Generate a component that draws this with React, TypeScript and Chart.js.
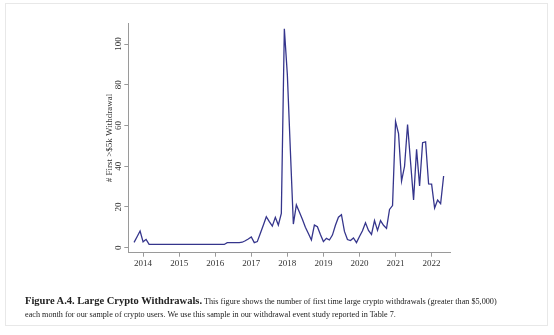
import React, { useEffect, useRef } from "react";
import { Chart, registerables } from "chart.js";

Chart.register(...registerables);

// First month of the series (Oct 2013); one value per month through May 2022
const startYear = 2013;
const startMonth = 10;

const withdrawals2013 = [2.6, 5.4, 8.2];
const withdrawals2014 = [2.9, 4.1, 1.6, 1.6, 1.6, 1.6, 1.6, 1.6, 1.6, 1.6, 1.6, 1.6];
const withdrawals2015 = [1.6, 1.6, 1.6, 1.6, 1.6, 1.6, 1.6, 1.6, 1.6, 1.6, 1.6, 1.6];
const withdrawals2016 = [1.6, 1.6, 1.6, 1.6, 2.5, 2.5, 2.5, 2.5, 2.5, 2.7, 3.4, 4.3];
const withdrawals2017 = [5.3, 2.5, 3, 7, 11, 15.2, 12.8, 10.6, 14.9, 11.1, 16.9, 107.5];
const withdrawals2018 = [85, 48, 11.6, 21, 17.5, 14, 10, 7, 3.8, 11.1, 10.3, 6.5];
const withdrawals2019 = [3, 4.6, 3.8, 6.2, 11, 15, 16.2, 8, 4, 3.5, 4.8, 2.5];
const withdrawals2020 = [5.5, 8.3, 12.2, 8.5, 6.5, 13.3, 8.5, 13.3, 11, 9.5, 18.8, 20.7];
const withdrawals2021 = [62, 56, 32.7, 40, 60.5, 42, 23.5, 48.3, 30.3, 51.6, 52, 31.3];
const withdrawals2022 = [31.2, 19.5, 23.4, 21.6, 35.2];

const withdrawals = [
  ...withdrawals2013,
  ...withdrawals2014,
  ...withdrawals2015,
  ...withdrawals2016,
  ...withdrawals2017,
  ...withdrawals2018,
  ...withdrawals2019,
  ...withdrawals2020,
  ...withdrawals2021,
  ...withdrawals2022,
];

const xTickYears = [2014, 2015, 2016, 2017, 2018, 2019, 2020, 2021, 2022];
const yTickValues = [0, 20, 40, 60, 80, 100];

const yTitle = "# First >$5k Withdrawal";
const captionBold = "Figure A.4. Large Crypto Withdrawals.";
const captionLine1 =
  " This figure shows the number of first time large crypto withdrawals (greater than $5,000)";
const captionLine2 =
  "each month for our sample of crypto users. We use this sample in our withdrawal event study reported in Table 7.";

const SERIF = "'Liberation Serif', 'DejaVu Serif', serif";

export default function App() {
  const canvasRef = useRef<HTMLCanvasElement | null>(null);

  useEffect(() => {
    const canvas = canvasRef.current;
    if (!canvas) return;

    const points = withdrawals.map((v, i) => {
      const monthIndex = startMonth - 1 + i;
      const year = startYear + Math.floor(monthIndex / 12);
      const m = monthIndex % 12;
      return { x: year + m / 12, y: v };
    });

    const rotatedYLabels = {
      id: "rotatedYLabels",
      afterDraw(chart: any) {
        const ctx = chart.ctx;
        const ys = chart.scales.y;
        ctx.save();
        ctx.font = `9px ${SERIF}`;
        ctx.fillStyle = "#333";
        ctx.textAlign = "center";
        ctx.textBaseline = "middle";
        yTickValues.forEach((v) => {
          const py = ys.getPixelForValue(v);
          ctx.save();
          ctx.translate(ys.right - 10, py);
          ctx.rotate(-Math.PI / 2);
          ctx.fillText(String(v), 0, 0);
          ctx.restore();
        });
        ctx.restore();
      },
    };

    const chart = new Chart(canvas, {
      type: "line",
      data: {
        datasets: [
          {
            data: points,
            borderColor: "#35358c",
            borderWidth: 1.3,
            pointRadius: 0,
            fill: false,
            tension: 0,
          },
        ],
      },
      options: {
        animation: false,
        responsive: false,
        maintainAspectRatio: false,
        layout: { padding: { left: 100, right: 104, top: 23.3, bottom: 0 } },
        plugins: {
          legend: { display: false },
          tooltip: { enabled: false },
        },
        scales: {
          x: {
            type: "linear",
            min: 2013.59,
            max: 2022.51,
            afterBuildTicks: (s: any) => {
              s.ticks = xTickYears.map((v) => ({ value: v }));
            },
            afterFit: (s: any) => {
              s.height = 82.3;
            },
            ticks: {
              callback: (v: any) => String(v),
              font: { family: SERIF, size: 9 },
              color: "#333",
              padding: 2,
              maxRotation: 0,
              autoSkip: false,
            },
            grid: {
              drawOnChartArea: false,
              drawTicks: true,
              tickLength: 4,
              color: "#9a9a9a",
            },
            border: { color: "#9a9a9a", width: 1 },
          },
          y: {
            type: "linear",
            min: -2.45,
            max: 110.2,
            afterBuildTicks: (s: any) => {
              s.ticks = yTickValues.map((v) => ({ value: v }));
            },
            afterFit: (s: any) => {
              s.width = 28.3;
            },
            ticks: { display: false },
            grid: {
              drawOnChartArea: false,
              drawTicks: true,
              tickLength: 4,
              color: "#9a9a9a",
            },
            border: { color: "#9a9a9a", width: 1 },
            title: {
              display: true,
              text: yTitle,
              font: { family: SERIF, size: 9 },
              color: "#333",
              padding: { top: 4.6, bottom: 0 },
            },
          },
        },
      },
      plugins: [rotatedYLabels],
    } as any);

    return () => {
      chart.destroy();
    };
  }, []);

  return (
    <div
      style={{
        position: "absolute",
        left: 0,
        top: 0,
        width: 554,
        height: 335,
        background: "#fff",
        overflow: "hidden",
      }}
    >
      <div
        style={{
          position: "absolute",
          left: 5,
          top: 3,
          width: 543,
          height: 323,
          border: "1px solid #e8e8e8",
          boxSizing: "border-box",
        }}
      />
      <canvas
        ref={canvasRef}
        width={554}
        height={335}
        style={{ position: "absolute", left: 0, top: 0, width: 554, height: 335 }}
      />
      <div
        style={{
          position: "absolute",
          left: 25,
          top: 292,
          fontFamily: SERIF,
          color: "#222",
          whiteSpace: "nowrap",
          lineHeight: "13px",
        }}
      >
        <div>
          <span style={{ fontWeight: "bold", fontSize: 10.5 }}>{captionBold}</span>
          <span style={{ fontSize: 8.2 }}>{captionLine1}</span>
        </div>
        <div style={{ fontSize: 8.2 }}>{captionLine2}</div>
      </div>
    </div>
  );
}
